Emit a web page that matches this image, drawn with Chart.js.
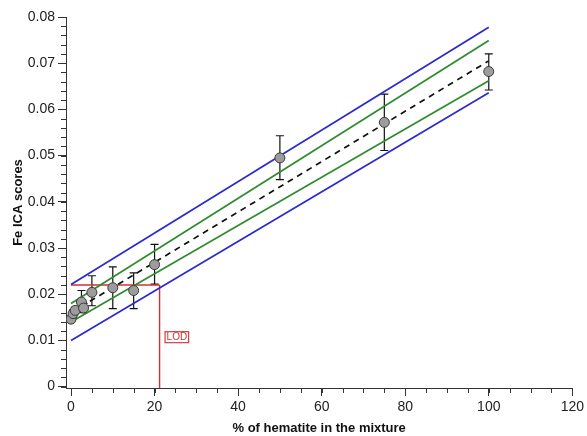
<!DOCTYPE html>
<html>
<head>
<meta charset="utf-8">
<script src="https://cdn.jsdelivr.net/npm/chart.js@4"></script>
<style>
html,body{margin:0;padding:0;background:#fff;}
#wrap{width:587px;height:436px;}
</style>
</head>
<body>
<div id="wrap"><canvas id="c" width="587" height="436"></canvas></div>
<script>
// ---- data ----
const hematite = [0, 0.5, 1, 2.5, 3, 5, 10, 15, 20, 50, 75, 100];
const icaScore = [0.0146, 0.0158, 0.0165, 0.0183, 0.0170, 0.0204, 0.0214, 0.0208, 0.0264, 0.0495, 0.0572, 0.0682];
const errLow  = [0.0140, 0.0150, 0.0158, 0.0162, 0.0160, 0.0175, 0.0169, 0.0169, 0.0222, 0.0448, 0.0511, 0.0642];
const errHigh = [0.0152, 0.0166, 0.0172, 0.0208, 0.0180, 0.0240, 0.0259, 0.0246, 0.0308, 0.0543, 0.0633, 0.0720];
const lineX = [0, 100];
const fitLine = [0.0160, 0.0705];
const confUpper = [0.0180, 0.0749];
const confLower = [0.0140, 0.0662];
const predUpper = [0.0221, 0.0778];
const predLower = [0.0100, 0.0636];
const lodX = 21.2;
const lodY = 0.022;
const xTicks = [0, 20, 40, 60, 80, 100, 120];
const yTicks = [0, 0.01, 0.02, 0.03, 0.04, 0.05, 0.06, 0.07, 0.08];
const xMinor = 5;
const yMinor = 0.002;

const pts = (xs, ys) => xs.map((x, i) => ({x: x, y: ys[i]}));

const FONT = '"Liberation Sans", Arial, sans-serif';

const extrasPlugin = {
  id: 'extras',
  beforeDatasetsDraw(chart) {
    const ctx = chart.ctx, xs = chart.scales.x, ys = chart.scales.y;
    ctx.save();
    ctx.strokeStyle = '#111';
    ctx.lineWidth = 1.2;
    hematite.forEach((h, i) => {
      const px = xs.getPixelForValue(h);
      const p1 = ys.getPixelForValue(errLow[i]);
      const p2 = ys.getPixelForValue(errHigh[i]);
      ctx.beginPath();
      ctx.moveTo(px, p1); ctx.lineTo(px, p2);
      ctx.moveTo(px - 4, p1); ctx.lineTo(px + 4, p1);
      ctx.moveTo(px - 4, p2); ctx.lineTo(px + 4, p2);
      ctx.stroke();
    });
    ctx.restore();
  },
  afterDraw(chart) {
    const ctx = chart.ctx, xs = chart.scales.x, ys = chart.scales.y;
    const area = chart.chartArea;
    ctx.save();
    ctx.strokeStyle = '#333';
    ctx.lineWidth = 1;
    for (let v = 0; v <= 0.08 + 1e-9; v += yMinor) {
      const py = Math.round(ys.getPixelForValue(v)) + 0.5;
      ctx.beginPath();
      ctx.moveTo(area.left - 5, py); ctx.lineTo(area.left, py);
      ctx.stroke();
    }
    for (let v = 0; v <= 120 + 1e-9; v += xMinor) {
      const px = Math.round(xs.getPixelForValue(v)) + 0.5;
      ctx.beginPath();
      ctx.moveTo(px, area.bottom); ctx.lineTo(px, area.bottom + 5);
      ctx.stroke();
    }
    // LOD label
    const lx = xs.getPixelForValue(lodX) + 5;
    const ly = ys.getPixelForValue(0.0107);
    ctx.font = '10px ' + FONT;
    const w = ctx.measureText('LOD').width;
    ctx.fillStyle = '#fff';
    ctx.fillRect(lx, ly - 6, w + 4, 12);
    ctx.strokeStyle = '#d04040';
    ctx.lineWidth = 1.2;
    ctx.strokeRect(lx + 0.5, ly - 5.5, w + 3, 11);
    ctx.fillStyle = '#d03030';
    ctx.textBaseline = 'middle';
    ctx.fillText('LOD', lx + 2, ly + 0.5);
    ctx.restore();
  }
};

new Chart(document.getElementById('c'), {
  type: 'scatter',
  data: {
    datasets: [
      { label: 'data', data: pts(hematite, icaScore), pointRadius: 5, pointHoverRadius: 5,
        pointBackgroundColor: '#9c9c9c', pointBorderColor: '#3a3a3a', pointBorderWidth: 1, order: 0 },
      { label: 'fit', data: pts(lineX, fitLine), showLine: true, pointRadius: 0,
        borderColor: '#111', borderWidth: 1.7, borderDash: [6, 5], order: 2 },
      { label: 'confU', data: pts(lineX, confUpper), showLine: true, pointRadius: 0,
        borderColor: '#2e8b2e', borderWidth: 1.7, order: 3 },
      { label: 'confL', data: pts(lineX, confLower), showLine: true, pointRadius: 0,
        borderColor: '#2e8b2e', borderWidth: 1.7, order: 3 },
      { label: 'predU', data: pts(lineX, predUpper), showLine: true, pointRadius: 0,
        borderColor: '#2a2ad0', borderWidth: 1.7, order: 4 },
      { label: 'predL', data: pts(lineX, predLower), showLine: true, pointRadius: 0,
        borderColor: '#2a2ad0', borderWidth: 1.7, order: 4 },
      { label: 'lodH', data: pts([0, lodX], [lodY, lodY]), showLine: true, pointRadius: 0,
        borderColor: '#d03030', borderWidth: 1.4, order: 5 },
      { label: 'lodV', data: pts([lodX, lodX], [lodY, -0.0003]), showLine: true, pointRadius: 0,
        borderColor: '#d03030', borderWidth: 1.4, order: 5 }
    ]
  },
  options: {
    responsive: false,
    animation: false,
    events: [],
    layout: { padding: { left: 0, right: 14, top: 17, bottom: 0 } },
    plugins: { legend: { display: false }, tooltip: { enabled: false } },
    scales: {
      x: {
        type: 'linear', min: -1.2, max: 120,
        afterBuildTicks: s => { s.ticks = xTicks.map(v => ({ value: v })); },
        afterFit: s => { s.height = 48; },
        grid: { drawOnChartArea: false, drawTicks: true, tickLength: 8, color: '#333' },
        border: { display: true, color: '#333', width: 1 },
        ticks: { color: '#222', font: { family: FONT, size: 14 }, padding: 3, maxRotation: 0 },
        title: { display: true, text: '% of hematite in the mixture', color: '#111',
                 font: { family: FONT, size: 13, weight: 'bold' }, padding: { top: 2, bottom: 0 } }
      },
      y: {
        type: 'linear', min: -0.0003, max: 0.08,
        afterBuildTicks: s => { s.ticks = yTicks.map(v => ({ value: v })); },
        afterFit: s => { s.width = 66; },
        grid: { drawOnChartArea: false, drawTicks: true, tickLength: 8, color: '#333' },
        border: { display: true, color: '#333', width: 1 },
        ticks: { color: '#222', font: { family: FONT, size: 14 }, padding: 3,
                 callback: v => String(+v.toFixed(2)) },
        title: { display: true, text: 'Fe ICA scores', color: '#111',
                 font: { family: FONT, size: 13, weight: 'bold' }, padding: { top: 11, bottom: 0 } }
      }
    }
  },
  plugins: [extrasPlugin]
});
</script>
</body>
</html>
